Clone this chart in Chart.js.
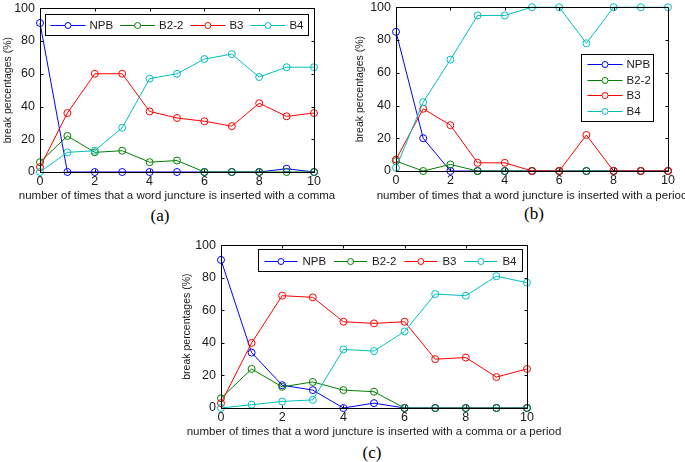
<!DOCTYPE html>
<html><head><meta charset="utf-8">
<script src="https://cdn.jsdelivr.net/npm/chart.js@4"></script>
<style>
html,body{margin:0;padding:0;background:#fff;}
#wrap{position:relative;width:685px;height:462px;overflow:hidden;background:#fff;}
canvas{position:absolute;}
.cap{position:absolute;font-family:"Liberation Serif","Times New Roman",serif;font-size:17px;color:#000;transform:translate(-50%,-50%);white-space:nowrap;}
</style></head><body>
<div id="wrap">
<canvas id="ca"></canvas><canvas id="cb"></canvas><canvas id="cc"></canvas>
<div class="cap" style="left:160px;top:216px">(a)</div>
<div class="cap" style="left:534px;top:214px">(b)</div>
<div class="cap" style="left:372px;top:453px">(c)</div>
</div>
<script>
// ---------- data ----------
const xValues = [0,1,2,3,4,5,6,7,8,9,10];
const seriesNames = ['NPB','B2-2','B3','B4'];
const xTickValues = [0,2,4,6,8,10];
const yTickValues = [0,20,40,60,80,100];
const yAxisTitle = 'break percentages (%)';

// (a) comma
const commaNPB = [91,0,0,0,0,0,0,0,0,2,0];
const commaB22 = [6,22,12,13,6,7,0,0,0,0,0];
const commaB3  = [3,36,60,60,37,33,31,28,42,34,36];
const commaB4  = [0,12,13,27,57,60,69,72,58,64,64];
const commaTitle = 'number of times that a word juncture is inserted with a comma';

// (b) period
const periodNPB = [85,20,0,0,0,0,0,0,0,0,0];
const periodB22 = [6,0,4,0,0,0,0,0,0,0,0];
const periodB3  = [7,38,28,5,5,0,0,22,0,0,0];
const periodB4  = [2,42,68,95,95,100,100,78,100,100,100];
const periodTitle = 'number of times that a word juncture is inserted with a period';

// (c) comma or period
const bothNPB = [91,34,14,11,0,3,0,0,0,0,0];
const bothB22 = [6,24,13,16,11,10,0,0,0,0,0];
const bothB3  = [3,40,69,68,53,52,53,30,31,19,24];
const bothB4  = [0,2,4,5,36,35,47,70,69,81,77];
const bothTitle = 'number of times that a word juncture is inserted with a comma or a period';

// ---------- style ----------
const colors = ['#0000ff','#008000','#ff0000','#00bfbf'];
const FAMILY = '"Liberation Sans", Arial, Helvetica, sans-serif';
const TEXT = '#1a1a1a';

const matlabAxes = {
  id: 'matlabAxes',
  afterDatasetsDraw(chart) {
    const {ctx, chartArea: a, scales: {x, y}} = chart;
    const L = Math.round(a.left)+0.5, R = Math.round(a.right)+0.5, T = Math.round(a.top)+0.5, B = Math.round(a.bottom)+0.5;
    ctx.save();
    ctx.strokeStyle = '#000'; ctx.lineWidth = 1;
    ctx.beginPath();
    ctx.rect(L, T, R-L, B-T);
    const tl = 3;
    xTickValues.forEach(v => {
      const px = Math.round(x.getPixelForValue(v))+0.5;
      ctx.moveTo(px, B); ctx.lineTo(px, B-tl);
      ctx.moveTo(px, T); ctx.lineTo(px, T+tl);
    });
    yTickValues.forEach(v => {
      const py = Math.round(y.getPixelForValue(v))+0.5;
      ctx.moveTo(L, py); ctx.lineTo(L+tl, py);
      ctx.moveTo(R, py); ctx.lineTo(R-tl, py);
    });
    ctx.stroke();
    ctx.restore();
  }
};

// x-axis title drawn without Chart.js's maxWidth squeezing
const xAxisTitle = {
  id: 'xAxisTitle',
  afterDraw(chart, args, o) {
    const {ctx, chartArea: a} = chart;
    ctx.save();
    ctx.font = o.size + 'px ' + FAMILY;
    ctx.fillStyle = TEXT; ctx.textAlign = 'center'; ctx.textBaseline = 'middle';
    ctx.fillText(o.text, (a.left + a.right)/2, a.bottom + o.offset);
    ctx.restore();
  }
};

const insideLegend = {
  id: 'insideLegend',
  afterDraw(chart, args, o) {
    const {ctx, chartArea: a} = chart;
    const bx = Math.round(a.left + o.x)+0.5, by = Math.round(a.top + o.y)+0.5;
    ctx.save();
    ctx.font = o.fontSize + 'px ' + FAMILY;
    ctx.fillStyle = '#fff';
    ctx.fillRect(bx, by, o.w, o.h);
    ctx.strokeStyle = '#000'; ctx.lineWidth = 1;
    ctx.strokeRect(bx, by, o.w, o.h);
    const ds = chart.data.datasets;
    const widths = ds.map(d => ctx.measureText(d.label).width);
    let positions = [];
    if (o.vertical) {
      ds.forEach((d, i) => positions.push({lx: bx + o.padL, cy: by + o.rowStart + i*o.rowStep}));
    } else {
      const used = ds.reduce((s, d, i) => s + o.lineLen + o.gap + widths[i], 0);
      const ig = (o.w - 2*o.padL - used) / (ds.length - 1);
      let cx = bx + o.padL;
      ds.forEach((d, i) => { positions.push({lx: cx, cy: by + o.h/2}); cx += o.lineLen + o.gap + widths[i] + ig; });
    }
    ds.forEach((d, i) => {
      const p = positions[i];
      const cy = Math.round(p.cy)+0.5;
      ctx.strokeStyle = d.borderColor; ctx.lineWidth = 1;
      ctx.beginPath(); ctx.moveTo(p.lx, cy); ctx.lineTo(p.lx + o.lineLen, cy); ctx.stroke();
      ctx.beginPath(); ctx.arc(p.lx + o.lineLen/2, cy, 3, 0, Math.PI*2); ctx.fillStyle='#fff'; ctx.fill(); ctx.stroke();
      ctx.fillStyle = TEXT; ctx.textBaseline = 'middle'; ctx.textAlign = 'left';
      ctx.fillText(d.label, p.lx + o.lineLen + o.gap, cy + 0.5);
    });
    ctx.restore();
  }
};

function makeChart(id, geo, series, xTitle, legendOpts) {
  const cv = document.getElementById(id);
  const canvasTop = geo.plotTop - 10;
  const cw = geo.canvasRight - geo.canvasLeft;
  const ch = geo.plotBottom + geo.xH - canvasTop;
  cv.width = cw; cv.height = ch;
  cv.style.left = geo.canvasLeft + 'px'; cv.style.top = canvasTop + 'px';
  cv.style.width = cw + 'px'; cv.style.height = ch + 'px';
  const datasets = series.map((vals, i) => ({
    label: seriesNames[i],
    data: xValues.map((x, k) => ({x, y: vals[k]})),
    borderColor: colors[i],
    backgroundColor: 'rgba(0,0,0,0)',
    pointBackgroundColor: 'rgba(0,0,0,0)',
    pointBorderColor: colors[i],
    pointRadius: 3.5,
    pointBorderWidth: 1,
    borderWidth: 1,
    tension: 0,
    clip: false,
    order: series.length - 1 - i
  }));
  return new Chart(cv, {
    type: 'line',
    data: {datasets},
    plugins: [matlabAxes, insideLegend, xAxisTitle],
    options: {
      responsive: false, animation: false, devicePixelRatio: 1,
      layout: {padding: {top: 10, left: 0, bottom: 0, right: geo.canvasRight - geo.plotRight}},
      plugins: {
        legend: {display: false}, tooltip: {enabled: false},
        insideLegend: legendOpts,
        xAxisTitle: {text: xTitle, size: 11.5, offset: geo.titleOffset}
      },
      scales: {
        x: {
          type: 'linear', min: 0, max: 10,
          afterBuildTicks: s => { s.ticks = xTickValues.map(v => ({value: v})); },
          grid: {display: false, drawTicks: false}, border: {display: false},
          ticks: {padding: 3, color: TEXT, font: {family: FAMILY, size: 12.5, lineHeight: 1}, maxRotation: 0, autoSkip: false},
          title: {display: false},
          afterFit: s => { s.height = geo.xH; }
        },
        y: {
          type: 'linear', min: 0, max: 100,
          afterBuildTicks: s => { s.ticks = yTickValues.map(v => ({value: v})); },
          grid: {display: false, drawTicks: false}, border: {display: false},
          ticks: {padding: 5, color: TEXT, font: {family: FAMILY, size: 12.5, lineHeight: 1}},
          title: {display: true, text: yAxisTitle, color: TEXT, font: {family: FAMILY, size: 10.5}, padding: {top: 1.5, bottom: 0}},
          afterFit: s => { s.width = geo.yW; }
        }
      }
    }
  });
}

makeChart('ca', {canvasLeft: 0, canvasRight: 340, plotRight: 314, plotTop: 7, plotBottom: 172, yW: 40, xH: 31, titleOffset: 24},
  [commaNPB, commaB22, commaB3, commaB4], commaTitle,
  {x: 5, y: 6, w: 263, h: 21, vertical: false, padL: 5, lineLen: 35, gap: 4, fontSize: 11.5});
makeChart('cb', {canvasLeft: 352, canvasRight: 685, plotRight: 668, plotTop: 6, plotBottom: 171, yW: 44, xH: 32, titleOffset: 25},
  [periodNPB, periodB22, periodB3, periodB4], periodTitle,
  {x: 185, y: 47, w: 72, h: 67, vertical: true, padL: 6, lineLen: 35, gap: 4, rowStart: 9.7, rowStep: 15.6, fontSize: 11.5});
makeChart('cc', {canvasLeft: 179, canvasRight: 575, plotRight: 527, plotTop: 244, plotBottom: 408, yW: 42, xH: 31, titleOffset: 24},
  [bothNPB, bothB22, bothB3, bothB4], bothTitle,
  {x: 37, y: 4, w: 264, h: 22, vertical: false, padL: 6, lineLen: 33, gap: 5, fontSize: 11.5});
</script>
</body></html>
